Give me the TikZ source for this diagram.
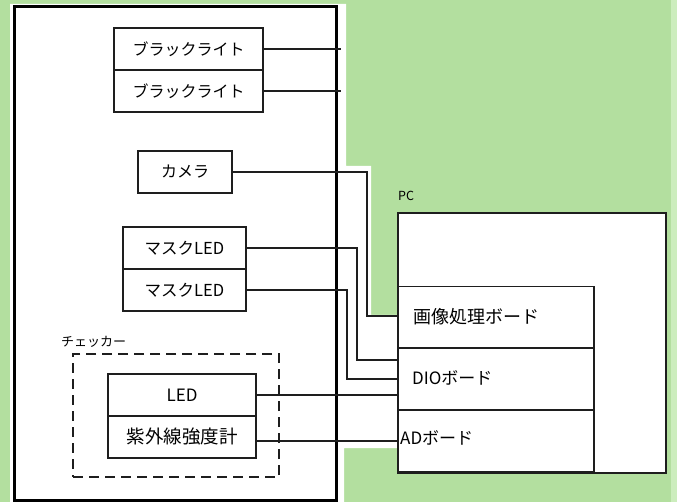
\documentclass[tikz,border=0pt]{standalone}
\usepackage{fontspec}
\setmainfont{Noto Sans CJK JP}
\definecolor{bggreen}{RGB}{179,223,159}
\definecolor{edgegreen}{RGB}{204,237,189}
\definecolor{ink}{RGB}{30,30,30}
\begin{document}
\begin{tikzpicture}[x=1pt,y=-1pt,
  box/.style={draw=ink,line width=1.1pt,inner sep=0pt,fill=white,
    font=\fontsize{16}{16}\selectfont},
  board/.style={draw=ink,line width=1.1pt,inner sep=0pt,
    minimum width=196pt,minimum height=62pt},
  wire/.style={draw=ink,line width=1.1pt},
  lbl/.style={inner sep=0pt,anchor=west}]
\useasboundingbox (0,0) rectangle (677,502);
% background
\fill[bggreen] (0,0) rectangle (677,502);
\fill[edgegreen] (671,0) rectangle (677,502);
\fill[white] (10,4) -- (346,4) -- (346,166) -- (371,166) -- (371,315)
  -- (398,315) -- (398,448) -- (344,448) -- (344,502) -- (10,502) -- cycle;
% device side
\node[draw=black,line width=3pt,minimum width=322pt,minimum height=493pt] (dev) at (175.5,253.5) {};
\node[box,minimum width=149pt,minimum height=42pt] (bl1) at (188.5,49) {ブラックライト};
\node[box,minimum width=149pt,minimum height=42pt] (bl2) at (188.5,91) {ブラックライト};
\node[box,minimum width=94pt,minimum height=42pt] (cam) at (185,172) {カメラ};
\node[box,minimum width=123pt,minimum height=42pt,font=\fontsize{16.5}{16.5}\selectfont] (mled1) at (184.5,248) {マスクLED};
\node[box,minimum width=123pt,minimum height=42pt,font=\fontsize{16.5}{16.5}\selectfont] (mled2) at (184.5,290) {マスクLED};
\node[draw=ink,line width=1.1pt,dash pattern=on 10pt off 6pt,minimum width=206pt,minimum height=123pt] (chk) at (176,415.5) {};
\node[lbl,font=\fontsize{13}{13}\selectfont] (chkl) at (61,342) {チェッカー};
\node[box,minimum width=148pt,minimum height=42pt,font=\fontsize{17}{17}\selectfont] (led) at (182,395) {LED};
\node[box,minimum width=148pt,minimum height=42pt,font=\fontsize{18.5}{18.5}\selectfont] (uv) at (182,437) {紫外線強度計};
% PC side
\node[lbl,font=\fontsize{12.5}{12.5}\selectfont] (pcl) at (398,196) {PC};
\node[draw=ink,line width=1.3pt,fill=white,minimum width=268pt,minimum height=260pt] (pc) at (532,343) {};
\node[board] (img) at (496,317.5) {};
\node[board] (dio) at (496,379) {};
\node[board] (ad) at (496,441) {};
\node[lbl,font=\fontsize{18}{18}\selectfont] (imgt) at (413,317) {画像処理ボード};
\node[lbl,font=\fontsize{17}{17}\selectfont] (diot) at (412,378) {DIOボード};
\node[lbl,font=\fontsize{17}{17}\selectfont] (adt) at (400,438) {ADボード};
% connectors
\coordinate (e1) at (341,49);
\coordinate (e2) at (341,91);
\coordinate (j0) at (367,316);
\coordinate (j1) at (357,360);
\coordinate (j2) at (347,379);
\draw[wire] (bl1.east) -- (e1);
\draw[wire] (bl2.east) -- (e2);
\draw[wire] (cam.east) -| (j0) -- (j0 -| img.west);
\draw[wire] (mled1.east) -| (j1) -- (j1 -| dio.west);
\draw[wire] (mled2.east) -| (j2) -- (dio.west);
\draw[wire] (led.east) -- (led.east -| dio.west);
\draw[wire] ([yshift=-4pt]uv.east) coordinate (u) -- (u -| ad.west);
\end{tikzpicture}
\end{document}
